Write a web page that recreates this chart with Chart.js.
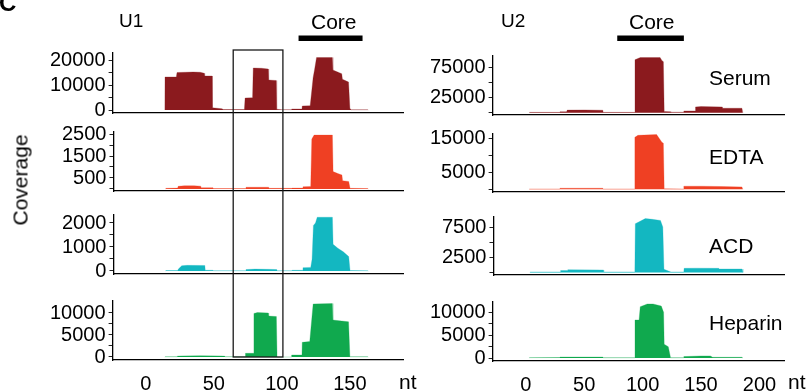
<!DOCTYPE html>
<html><head><meta charset="utf-8">
<script src="https://cdn.jsdelivr.net/npm/chart.js@4.4.0/dist/chart.umd.min.js"></script>
<style>
html,body{margin:0;padding:0;background:#fff;}
body{width:811px;height:392px;position:relative;overflow:hidden;font-family:"Liberation Sans",Arial,Helvetica,sans-serif;color:#000;}
.lbl{position:absolute;line-height:1;white-space:nowrap;z-index:6;}
.wrap{position:absolute;}
.wrap canvas{display:block;}
#overlay{position:absolute;left:0;top:0;pointer-events:none;z-index:5;}
</style></head><body>
<div class="lbl" style="left:-1px;top:-9px;font-size:24px;font-weight:bold;">C</div>
<div class="lbl" style="left:119px;top:11px;font-size:19px;">U1</div>
<div class="lbl" style="left:311px;top:10.5px;font-size:21px;">Core</div>
<div class="lbl" style="left:501px;top:11px;font-size:19px;">U2</div>
<div class="lbl" style="left:629px;top:10.5px;font-size:21px;">Core</div>
<div class="lbl" style="left:709px;top:66.7px;font-size:21px;">Serum</div>
<div class="lbl" style="left:709px;top:145.5px;font-size:21px;">EDTA</div>
<div class="lbl" style="left:709px;top:234.9px;font-size:21px;">ACD</div>
<div class="lbl" style="left:709px;top:312.2px;font-size:21px;">Heparin</div>
<div class="lbl" style="left:19.8px;top:180px;font-size:21px;color:#000;transform:translate(-50%,-50%) rotate(-90deg);">Coverage</div>
<div class="lbl" style="left:399px;top:370.5px;font-size:21px;">nt</div>
<div class="lbl" style="left:788px;top:370.5px;font-size:21px;">nt</div>
<canvas id="overlay" width="811" height="392"></canvas>
<script>
// ---------- data ----------
const conditions = ['Serum','EDTA','ACD','Heparin'];
const u1XTicks = [0,50,100,150];
const u2XTicks = [0,50,100,150,200];
const u1Core = [112,159];
const u2Core = [78,135];
const u1Box = [64,100.5];

const u1SerumPos = [14,14.2,22.5,23,35,40,43,43.3,48.8,49,56,57,72.5,73,78.5,79,85,90,90.3,95.8,96.2,100,107,107.2,114.8,115,120.8,121.5,123,124,125.5,137,137.5,144,144.5,149,150,151,163,163.5];
const u1SerumVal = [0,13200,13200,15000,15200,15100,14700,13600,13600,900,500,200,200,4800,4900,16800,16700,16400,12000,11800,300,150,150,400,400,1600,1700,5200,13000,16000,21000,21000,16000,14500,12300,11200,600,100,80,0];
const u1EdtaPos = [14,14.2,23,23.3,28,35,40,40.3,49,49.3,73,73.3,90,90.3,107,107.3,115,115.3,121,121.8,123.5,137,137.5,141,144,144.5,149,150,163,163.5];
const u1EdtaVal = [0,30,40,120,150,150,130,60,60,20,20,80,80,30,30,40,40,100,110,2270,2450,2450,790,700,640,380,340,30,20,0];
const u1AcdPos = [14,14.2,23,23.5,26,30,43,43.3,49,49.3,73,73.3,80,90,96,96.3,107,107.3,115,115.3,121,122,123,124.5,125.8,137,137.5,141,145,149,150,163,163.5];
const u1AcdVal = [0,20,20,80,220,235,230,30,30,10,10,60,80,70,60,10,10,30,30,140,150,490,1900,2000,2240,2240,1110,950,800,600,20,10,0];
const u1HepPos = [14,14.2,23,23.3,40,58,58.3,73,73.3,79,79.5,82,90,90.3,96,96.5,107,107.2,114.8,115,120.5,123,137,137.5,149,150,163,163.5];
const u1HepVal = [0,50,60,200,300,200,50,50,840,840,9900,10100,10000,9300,9200,0,0,450,450,3330,3500,12050,12150,8400,8000,50,50,0];

const u2SerumPos = [3,3.2,29,29.3,35,35.5,50,66,66.3,93,93.5,98,115,116.5,117.8,118.5,124,124.3,135,135.3,145,145.3,150,168,168.3,185,185.8];
const u2SerumVal = [0,500,500,1500,1500,4200,4500,4000,500,500,87300,90700,90700,86000,84000,2000,1500,800,800,2800,2800,9500,10000,9500,7300,7300,0];
const u2EdtaPos = [3,3.2,29,29.3,66,66.3,93,93.4,96,112,116.5,117.8,118.5,135,135.3,150,168,185,185.8];
const u2EdtaVal = [0,100,100,300,300,100,100,15200,15800,16000,13800,13500,150,100,900,900,800,700,0];
const u2AcdPos = [3,3.2,29,29.3,35,35.5,66,66.3,93,93.4,102,108,115,117,118,124,135,135.3,145,165,165.3,185,185.8];
const u2AcdVal = [0,80,80,300,300,450,400,80,80,8070,8900,8780,8600,7500,500,80,80,670,700,670,560,560,0];
const u2HepPos = [3,3.2,29,29.3,66,66.3,93,93.5,97,98,104,109,116,118,118.5,122,124,124.3,135,135.3,150,158,160,185,185.8];
const u2HepVal = [0,80,100,200,200,50,50,8260,8260,11150,11740,11740,11300,9930,2980,2460,0,50,50,300,450,450,150,150,0];

// y ticks (all tick marks) and labelled ticks
const u1SerumTicks = [0,5000,10000,15000,20000], u1SerumLabels = [0,10000,20000];
const u1EdtaTicks = [0,500,1000,1500,2000,2500], u1EdtaLabels = [500,1500,2500];
const u1AcdTicks = [0,500,1000,1500,2000], u1AcdLabels = [0,1000,2000];
const u1HepTicks = [0,2500,5000,7500,10000], u1HepLabels = [0,5000,10000];
const u2SerumTicks = [0,25000,50000,75000], u2SerumLabels = [25000,75000];
const u2EdtaTicks = [0,5000,10000,15000], u2EdtaLabels = [5000,15000];
const u2AcdTicks = [0,2500,5000,7500], u2AcdLabels = [2500,7500];
const u2HepTicks = [0,2500,5000,7500,10000], u2HepLabels = [0,5000,10000];

// ---------- styles / layout ----------
const FONT = '"Liberation Sans", Arial, Helvetica, sans-serif';
const COLORS = {Serum:'#8B1A1E', EDTA:'#EF4023', ACD:'#13B7C1', Heparin:'#10A94E'};
const EDGE = {Serum:'rgba(139,26,30,0.35)', EDTA:'rgba(239,64,35,0.35)', ACD:'rgba(19,183,193,0.35)', Heparin:'rgba(16,169,78,0.35)'};
const U1X = [-24.3,189], U2X = [-28.3,221];
const panels = [
 {id:'u1s', cond:'Serum', pos:u1SerumPos, val:u1SerumVal, yT:u1SerumTicks, yL:u1SerumLabels, y:[-1200,22800], x:U1X, xT:u1XTicks, rect:[113,53,403,113], bottom:false},
 {id:'u1e', cond:'EDTA', pos:u1EdtaPos, val:u1EdtaVal, yT:u1EdtaTicks, yL:u1EdtaLabels, y:[-91,2591], x:U1X, xT:u1XTicks, rect:[113,132,403,191], bottom:false},
 {id:'u1a', cond:'ACD', pos:u1AcdPos, val:u1AcdVal, yT:u1AcdTicks, yL:u1AcdLabels, y:[-125,2333], x:U1X, xT:u1XTicks, rect:[113,215,403,274], bottom:false},
 {id:'u1h', cond:'Heparin', pos:u1HepPos, val:u1HepVal, yT:u1HepTicks, yL:u1HepLabels, y:[-682,12727], x:U1X, xT:u1XTicks, rect:[113,301,403,360], bottom:true},
 {id:'u2s', cond:'Serum', pos:u2SerumPos, val:u2SerumVal, yT:u2SerumTicks, yL:u2SerumLabels, y:[-3833,93333], x:U2X, xT:u2XTicks, rect:[493,55.7,784,114], bottom:false},
 {id:'u2e', cond:'EDTA', pos:u2EdtaPos, val:u2EdtaVal, yT:u2EdtaTicks, yL:u2EdtaLabels, y:[-800,16182], x:U2X, xT:u2XTicks, rect:[493,134.3,784,191.7], bottom:false},
 {id:'u2a', cond:'ACD', pos:u2AcdPos, val:u2AcdVal, yT:u2AcdTicks, yL:u2AcdLabels, y:[-433,9167], x:U2X, xT:u2XTicks, rect:[493,216.7,784,274.3], bottom:false},
 {id:'u2h', cond:'Heparin', pos:u2HepPos, val:u2HepVal, yT:u2HepTicks, yL:u2HepLabels, y:[-652,12174], x:U2X, xT:u2XTicks, rect:[493,302,784,361], bottom:true}
];

function config(p){
  const color = COLORS[p.cond];
  return {
    type:'line',
    data:{datasets:[{label:p.cond, data:p.pos.map((x,i)=>({x:x, y:p.val[i]})), fill:'origin',
      backgroundColor:color, borderColor:EDGE[p.cond], borderWidth:0.8, pointRadius:0, tension:0}]},
    options:{
      responsive:false, maintainAspectRatio:false, animation:false, events:[],
      layout:{padding:{top:16,bottom:p.bottom?6:16,left:4,right:26}},
      plugins:{legend:{display:false},tooltip:{enabled:false}},
      scales:{
        x:{type:'linear', min:p.x[0], max:p.x[1],
          afterBuildTicks:a=>{a.ticks=p.xT.map(v=>({value:v}));},
          grid:{drawOnChartArea:false, drawTicks:false},
          border:{display:true, color:'#000', width:1.3},
          ticks:{display:p.bottom, color:'#000', font:{family:FONT,size:20}, padding:12, maxRotation:0, autoSkip:false, callback:v=>String(v)}},
        y:{type:'linear', min:p.y[0], max:p.y[1],
          afterBuildTicks:a=>{a.ticks=p.yT.map(v=>({value:v}));},
          grid:{drawOnChartArea:false, drawTicks:true, tickLength:4, color:'#222', lineWidth:1},
          border:{display:true, color:'#000', width:1.3},
          ticks:{color:'#000', font:{family:FONT,size:20}, padding:3, autoSkip:false, callback:v=>p.yL.includes(v)?String(v):''}}
      }
    }
  };
}

const built = {};
panels.forEach(p=>{
  const [x0,y0,x1,y1] = p.rect;
  const w = x1-x0, h = y1-y0;
  const W0 = w+200, H0 = h+100;
  const probeWrap = document.createElement('div'); probeWrap.className='wrap'; probeWrap.style.left='0px'; probeWrap.style.top='0px';
  const probe = document.createElement('canvas'); probe.width=W0; probe.height=H0;
  probe.style.width=W0+'px'; probe.style.height=H0+'px';
  probeWrap.appendChild(probe); document.body.appendChild(probeWrap);
  const pc = new Chart(probe, config(p));
  const ca = pc.chartArea;
  const L = ca.left, T = ca.top, R = W0-ca.right, B = H0-ca.bottom;
  pc.destroy(); probeWrap.remove();

  const W = Math.round(L+w+R), H = Math.round(T+h+B);
  const wrap = document.createElement('div'); wrap.className='wrap';
  wrap.style.left=(x0-L)+'px'; wrap.style.top=(y0-T)+'px';
  const cv = document.createElement('canvas'); cv.width=W; cv.height=H;
  cv.style.width=W+'px'; cv.style.height=H+'px';
  wrap.appendChild(cv); document.body.appendChild(wrap);
  const ch = new Chart(cv, config(p));
  built[p.id] = {chart:ch, ox:x0-L, oy:y0-T};
});

// ---------- annotations via the charts' scales ----------
function pageX(id,v){const b=built[id]; return b.chart.scales.x.getPixelForValue(v)+b.ox;}
function pageY(id,v){const b=built[id]; return b.chart.scales.y.getPixelForValue(v)+b.oy;}
function areaTop(id){const b=built[id]; return b.chart.chartArea.top+b.oy;}
const ov = document.getElementById('overlay').getContext('2d');
ov.fillStyle='#000';
// core bars
[[ 'u1s', u1Core ], [ 'u2s', u2Core ]].forEach(([id,c])=>{
  const a = pageX(id,c[0]), b = pageX(id,c[1]);
  ov.fillRect(a, 35.5, b-a, 5.5);
});
// box around U1 region
(function(){
  const l = pageX('u1s',u1Box[0]), r = pageX('u1s',u1Box[1]);
  const t = areaTop('u1s')-3, bt = pageY('u1h',0);
  ov.strokeStyle='#1a1a1a'; ov.lineWidth=1.3;
  ov.strokeRect(l, t, r-l, bt-t);
})();
</script>
</body></html>
